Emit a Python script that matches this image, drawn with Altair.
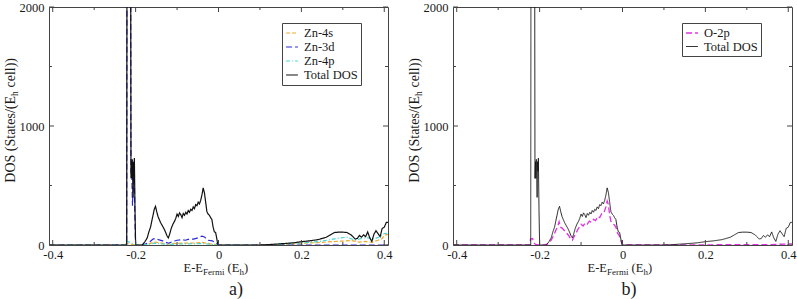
import altair as alt
import pandas as pd

# ---- density of states data: energy E - E_Fermi (Hartree), DOS (states / (Eh cell)) ----
tot_e = [-0.409, -0.2215, -0.2205, -0.2125, -0.2112, -0.2100, -0.2090, -0.2080, -0.2070, -0.2060,
         -0.2050, -0.2040, -0.2030, -0.2015, -0.2000, -0.1840, -0.1780, -0.1720, -0.1680, -0.1640,
         -0.1610, -0.1580, -0.1550, -0.1520, -0.1490, -0.1460, -0.1430, -0.1400, -0.1360, -0.1320,
         -0.1280, -0.1240, -0.1210, -0.1180, -0.1140, -0.1100, -0.1060, -0.1030, -0.1000, -0.0970,
         -0.0940, -0.0910, -0.0880, -0.0850, -0.0820, -0.0790, -0.0760, -0.0730, -0.0700, -0.0670,
         -0.0640, -0.0610, -0.0580, -0.0550, -0.0520, -0.0490, -0.0460, -0.0430, -0.0400, -0.0370,
         -0.0340, -0.0310, -0.0280, -0.0250, -0.0220, -0.0190, -0.0160, -0.0130, -0.0100, -0.0070,
         -0.0050, -0.0030, -0.0010, 0.1000, 0.1200, 0.1500, 0.1800, 0.2000, 0.2200, 0.2400,
         0.2600, 0.2700, 0.2800, 0.2900, 0.3000, 0.3100, 0.3200, 0.3300, 0.3350, 0.3400,
         0.3450, 0.3500, 0.3550, 0.3600, 0.3650, 0.3700, 0.3750, 0.3800, 0.3850, 0.3900,
         0.3950, 0.4000, 0.4050, 0.4090]
tot_dos = [0, 0, 4000, 4000, 560, 700, 560, 720, 600, 400,
           700, 620, 730, 300, 0, 0, 25, 60, 110, 150,
           200, 250, 300, 325, 280, 240, 215, 190, 165, 140,
           110, 75, 60, 90, 140, 175, 200, 225, 260, 240,
           270, 255, 230, 265, 250, 275, 260, 290, 275, 300,
           290, 320, 305, 340, 330, 360, 345, 375, 420, 480,
           440, 360, 280, 260, 250, 230, 215, 150, 110, 105,
           70, 30, 0, 0, 3, 10, 18, 28, 35, 45,
           65, 85, 105, 108, 108, 105, 85, 50, 55, 80,
           65, 85, 70, 110, 60, 30, 90, 120, 95, 70,
           140, 150, 190, 190]

zn3d_e = [-0.409, -0.2215, -0.2205, -0.2125, -0.2112, -0.2095, -0.2075, -0.2055, -0.2035, -0.2015,
          -0.2000, -0.1850, -0.1750, -0.1650, -0.1580, -0.1520, -0.1450, -0.1350, -0.1250, -0.1200,
          -0.1100, -0.1000, -0.0900, -0.0800, -0.0700, -0.0600, -0.0500, -0.0400, -0.0350, -0.0250,
          -0.0150, -0.0050, 0.0000, 0.4090]
zn3d_dos = [0, 0, 3500, 3500, 600, 650, 330, 600, 650, 200,
            0, 0, 10, 30, 50, 55, 45, 35, 20, 15,
            30, 40, 45, 40, 50, 50, 60, 75, 70, 40,
            35, 15, 0, 0]

zn4s_e = [-0.409, -0.2230, -0.2210, -0.2180, -0.2000, -0.1850, -0.1700, -0.1550, -0.1400, -0.1250,
          -0.1100, -0.0900, -0.0700, -0.0500, -0.0400, -0.0200, 0.0000, 0.1200, 0.1800, 0.2000,
          0.2400, 0.2700, 0.3000, 0.3200, 0.3400, 0.3550, 0.3700, 0.3850, 0.3950, 0.4000, 0.4090]
zn4s_dos = [0, 0, 20, 10, 0, 0, 8, 25, 18, 8,
            12, 15, 15, 18, 22, 10, 0, 0, 8, 15,
            20, 28, 33, 38, 25, 30, 22, 40, 55, 80, 90]

zn4p_e = [-0.409, -0.2230, -0.2220, -0.2190, -0.2000, -0.1850, -0.1700, -0.1550, -0.1400, -0.1200,
          -0.1000, -0.0700, -0.0400, 0.0000, 0.1200, 0.1600, 0.2000, 0.2400, 0.2700, 0.2900,
          0.3100, 0.3300, 0.3450, 0.3600, 0.3750, 0.3900, 0.4000, 0.4090]
zn4p_dos = [0, 0, 35, 30, 0, 0, 5, 15, 10, 5,
            8, 10, 12, 0, 0, 8, 18, 28, 45, 58,
            65, 40, 55, 60, 50, 70, 95, 100]

o2p_e = [-0.409, -0.2230, -0.2220, -0.2170, -0.2140, -0.2100, -0.2000, -0.1900, -0.1800, -0.1720,
         -0.1650, -0.1600, -0.1560, -0.1530, -0.1500, -0.1450, -0.1400, -0.1350, -0.1300, -0.1250,
         -0.1210, -0.1170, -0.1120, -0.1080, -0.1040, -0.1000, -0.0950, -0.0900, -0.0850, -0.0800,
         -0.0750, -0.0700, -0.0650, -0.0600, -0.0550, -0.0500, -0.0450, -0.0400, -0.0370, -0.0340,
         -0.0310, -0.0280, -0.0240, -0.0200, -0.0160, -0.0120, -0.0080, -0.0050, -0.0020, 0.0000,
         0.3500, 0.4090]
o2p_dos = [0, 0, 50, 55, 20, 5, 0, 0, 10, 40,
           90, 130, 160, 195, 150, 140, 120, 100, 80, 50,
           40, 70, 100, 130, 150, 175, 160, 185, 175, 200,
           190, 215, 205, 240, 230, 265, 270, 320, 370, 340,
           250, 200, 180, 170, 150, 100, 80, 50, 20, 0,
           3, 10]

x_major = [-0.4, -0.2, 0.0, 0.2, 0.4]
x_minor = [-0.3, -0.1, 0.1, 0.3]
y_major = [0, 1000, 2000]
y_minor = [500, 1500]

# ---- styling ----
X_DOMAIN = [-0.409, 0.409]
Y_DOMAIN = [0, 2000]
W, H = 339, 238
SERIF = "Times New Roman, Liberation Serif, serif"
FRAME = "#444444"
INK = "#1a1a1a"
LABEL_SIZE = 12.5
SUB_SIZE = 9
YTITLE_SIZE = 14

x_scale = alt.Scale(domain=X_DOMAIN, nice=False, zero=False)
y_scale = alt.Scale(domain=Y_DOMAIN, nice=False, zero=False)
x_axis = alt.Axis(values=x_major, title=None, ticks=False, domain=False, grid=False,
                  labelExpr="toString(round(datum.value*10)/10)",
                  labelFont=SERIF, labelFontSize=LABEL_SIZE, labelColor=INK,
                  labelPadding=3, labelFlush=False)
y_axis = alt.Axis(values=y_major, title=None, ticks=False, domain=False, grid=False,
                  format="d", labelFont=SERIF, labelFontSize=LABEL_SIZE,
                  labelColor=INK, labelPadding=5, labelFlush=False)


def series_frame(name, energies, dos):
    return pd.DataFrame({"E": energies, "DOS": dos, "series": name,
                         "idx": list(range(len(energies)))})


def legend(lx, ly):
    return alt.Legend(orient="none", legendX=lx, legendY=ly, title=None,
                      strokeColor=FRAME, fillColor="white", padding=3,
                      symbolType="stroke", symbolSize=140, symbolStrokeWidth=1.3,
                      labelFont=SERIF, labelFontSize=LABEL_SIZE, labelColor=INK,
                      labelOffset=5, rowPadding=0, cornerRadius=0)


def dos_lines(frames, names, colors, dashes, widths, lx, ly):
    data = pd.concat(frames, ignore_index=True)
    return alt.Chart(data).mark_line(clip=True).encode(
        x=alt.X("E:Q", scale=x_scale, axis=x_axis),
        y=alt.Y("DOS:Q", scale=y_scale, axis=y_axis),
        color=alt.Color("series:N", scale=alt.Scale(domain=names, range=colors),
                        legend=legend(lx, ly)),
        strokeDash=alt.StrokeDash("series:N", scale=alt.Scale(domain=names, range=dashes),
                                  legend=legend(lx, ly)),
        strokeWidth=alt.StrokeWidth("series:N", scale=alt.Scale(domain=names, range=widths),
                                    legend=None),
        order=alt.Order("idx:Q"),
    )


def ticks():
    """Inward xmgrace-style ticks on all four sides of the frame."""
    layers = []
    for vals, size in ((x_major, 5), (x_minor, 3)):
        df = pd.DataFrame({"E": vals})
        xe = alt.X("E:Q", scale=x_scale, axis=x_axis)
        layers.append(alt.Chart(df).mark_rule(color=FRAME).encode(
            x=xe, y=alt.value(H), y2=alt.value(H - size)))
        layers.append(alt.Chart(df).mark_rule(color=FRAME).encode(
            x=xe, y=alt.value(0), y2=alt.value(size)))
    for vals, size in ((y_major, 5), (y_minor, 3)):
        df = pd.DataFrame({"DOS": vals})
        ye = alt.Y("DOS:Q", scale=y_scale, axis=y_axis)
        layers.append(alt.Chart(df).mark_rule(color=FRAME).encode(
            y=ye, x=alt.value(0), x2=alt.value(size)))
        layers.append(alt.Chart(df).mark_rule(color=FRAME).encode(
            y=ye, x=alt.value(W), x2=alt.value(W - size)))
    return layers


def text(t, x, y, size=LABEL_SIZE, align="left", angle=0):
    return alt.Chart(pd.DataFrame({"t": [t]})).mark_text(
        text=t, font=SERIF, fontSize=size, align=align, baseline="alphabetic",
        angle=angle, color=INK).encode(x=alt.value(x), y=alt.value(y))


def titles(tag, tag_x):
    # y title: DOS (States/(E_h cell)) written bottom-to-top
    ybx, yay = -34.5, 89
    ytitle = [
        text("DOS (States/(E", ybx, yay, size=YTITLE_SIZE, align="right", angle=270),
        text("h", ybx + 3.5, yay, size=9.5, align="left", angle=270),
        text("cell))", ybx, yay - 8.5, size=YTITLE_SIZE, align="left", angle=270),
    ]
    # x title: E-E_Fermi (E_h)
    ax, by = 154, 265
    xtitle = [
        text("E-E", ax, by, align="right"),
        text("Fermi", ax, by + 3, size=SUB_SIZE),
        text("(E", ax + 24.6, by),
        text("h", ax + 36.4, by + 3, size=SUB_SIZE),
        text(")", ax + 40.9, by),
    ]
    return ytitle + xtitle + [text(tag, tag_x, 288, size=18, align="center")]


left_frames = [series_frame("Zn-4s", zn4s_e, zn4s_dos),
               series_frame("Zn-3d", zn3d_e, zn3d_dos),
               series_frame("Zn-4p", zn4p_e, zn4p_dos),
               series_frame("Total DOS", tot_e, tot_dos)]
left = alt.layer(
    dos_lines(left_frames, ["Zn-4s", "Zn-3d", "Zn-4p", "Total DOS"],
              ["#f0a830", "#2828d8", "#48d8d0", "#111111"],
              [[4, 2], [6, 3], [4, 2, 1, 2], [1, 0]],
              [1.2, 1.2, 1.2, 0.9], 233, 16),
    *ticks(), *titles("a)", 187),
).properties(width=W, height=H)

right_frames = [series_frame("O-2p", o2p_e, o2p_dos),
                series_frame("Total DOS", tot_e, tot_dos)]
right = alt.layer(
    dos_lines(right_frames, ["O-2p", "Total DOS"], ["#e030e0", "#111111"],
              [[6, 3], [1, 0]], [1.3, 0.9], 229, 16),
    *ticks(), *titles("b)", 176),
).properties(width=W, height=H)

chart = alt.hconcat(left, right, spacing=65, bounds="flush").resolve_scale(
    color="independent", strokeDash="independent", strokeWidth="independent"
).properties(
    padding={"left": 3, "top": 0, "right": 0, "bottom": 0}
).configure_view(stroke=FRAME, strokeWidth=1)

chart.save("out.html", embed_options={"renderer": "svg", "actions": False})
